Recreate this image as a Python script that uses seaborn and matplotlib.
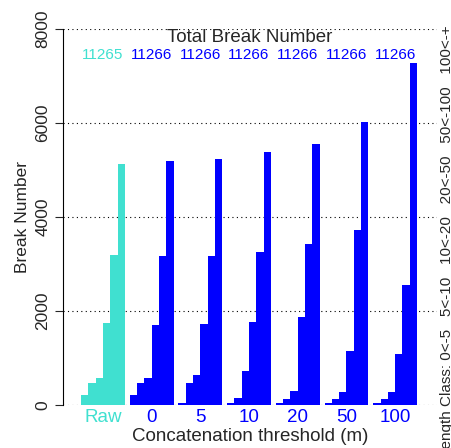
import matplotlib
matplotlib.use("Agg")
import matplotlib.pyplot as plt
import seaborn as sns
import pandas as pd
import numpy as np

groups = ["Raw", "0", "5", "10", "20", "50", "100"]
classes = ["0<-5", "5<-10", "10<-20", "20<-50", "50<-100", "100<-"]
raw_vals = [220, 470, 580, 1740, 3200, 5130]
t0_vals = [205, 470, 575, 1700, 3180, 5200]
t5_vals = [40, 470, 640, 1730, 3180, 5240]
t10_vals = [50, 140, 730, 1770, 3260, 5385]
t20_vals = [50, 120, 290, 1870, 3430, 5555]
t50_vals = [50, 130, 275, 1155, 3730, 6015]
t100_vals = [50, 120, 275, 1085, 2555, 7280]
totals = ["11265", "11266", "11266", "11266", "11266", "11266", "11266"]
yticks = [0, 2000, 4000, 6000, 8000]

all_vals = [raw_vals, t0_vals, t5_vals, t10_vals, t20_vals, t50_vals, t100_vals]
rows = []
for g, vals in zip(groups, all_vals):
    for c, v in zip(classes, vals):
        rows.append({"group": g, "cls": c, "value": v})
df = pd.DataFrame(rows)

TURQ = "#40E0D0"
BLUE = "#0000FF"

sns.set_style("white")
plt.rcParams["font.family"] = ["Liberation Sans", "DejaVu Sans"]

fig = plt.figure(figsize=(4.51, 4.48), dpi=100)
ax = fig.add_axes([63 / 451, 1 - 405 / 448, (437 - 63) / 451, (405 - 29) / 448])

sns.barplot(data=df, x="group", y="value", hue="cls", order=groups,
            hue_order=classes, palette=[BLUE] * 6, dodge=True, width=0.9,
            linewidth=0, saturation=1, legend=False, ax=ax, errorbar=None)

for p in ax.patches:
    cx = p.get_x() + p.get_width() / 2
    if cx < 0.5:
        p.set_facecolor(TURQ)
    p.set_edgecolor("none")

ax.set_xlim(-0.82, 6.86)
ax.set_ylim(0, 8000)

for y in yticks:
    ax.axhline(y, color="black", linestyle=(0, (1, 3)), linewidth=0.8, zorder=0)

for s in ["top", "right", "bottom"]:
    ax.spines[s].set_visible(False)
ax.spines["left"].set_color("black")
ax.spines["left"].set_linewidth(0.8)
ax.set_yticks(yticks)
ax.set_yticklabels([str(v) for v in yticks], rotation=90, va="center", fontsize=12.5)
ax.tick_params(axis="y", direction="out", length=6, width=0.8, pad=3, left=True)
ax.set_ylabel("Break Number", fontsize=12.5, labelpad=4)

ax.set_xticks(range(len(groups)))
ax.set_xticklabels(groups, fontsize=13.5)
ax.tick_params(axis="x", length=0, pad=3)
for lab, g in zip(ax.get_xticklabels(), groups):
    lab.set_color(TURQ if g == "Raw" else BLUE)
ax.set_xlabel("Concatenation threshold (m)", fontsize=13.5)
ax.xaxis.set_label_coords(0.5, -(428 - 405) / 376)

xmid = ax.get_xlim()[0] + 0.5 * (ax.get_xlim()[1] - ax.get_xlim()[0])
ax.text(xmid, 7820, "Total Break Number", ha="center", va="center", fontsize=13.5)
for i, t in enumerate(totals):
    ax.text(i, 7440, t, ha="center", va="center", fontsize=11,
            color=TURQ if i == 0 else BLUE)

fig.text(447 / 451, 1 - 25 / 448,
         "Length Class: 0<-5   5<-10   10<-20   20<-50   50<-100   100<-+",
         rotation=90, ha="center", va="top", fontsize=11)

fig.savefig("out.png", dpi=100)
